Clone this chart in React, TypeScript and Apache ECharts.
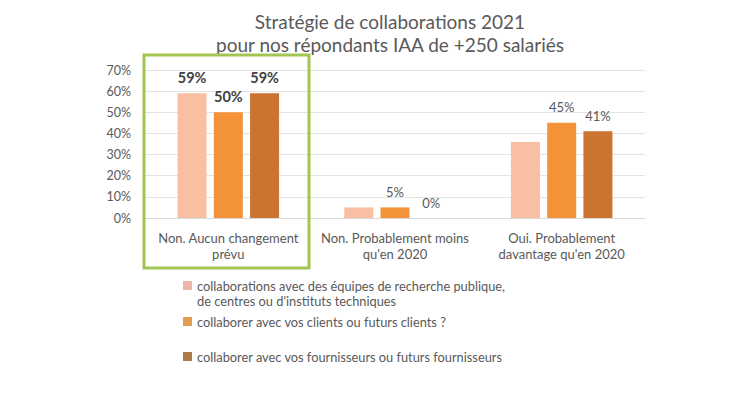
import React, { useEffect, useRef } from "react";
import * as echarts from "echarts";

const categories = [
  "Non. Aucun changement\nprévu",
  "Non. Probablement moins\nqu'en 2020",
  "Oui. Probablement\ndavantage qu'en 2020",
];
const seriesNames = [
  "collaborations avec des équipes de recherche publique,\nde centres ou d'instituts techniques",
  "collaborer avec vos clients ou futurs clients ?",
  "collaborer avec vos fournisseurs ou futurs fournisseurs",
];
const recherche = [59, 5, 36];
const clients = [50, 5, 45];
const fournisseurs = [59, 0, 41];
const showLabel = [
  [true, false, false],
  [true, true, true],
  [true, true, true],
];
const yTicks = [0, 10, 20, 30, 40, 50, 60, 70];
const colors = ["#F8BFA2", "#F4923A", "#CB7331"];
const legendColors = ["#EEB6A8", "#E49B52", "#AE7A44"];
const FONT = "Lato";

export default function App() {
  const ref = useRef<HTMLDivElement>(null);
  useEffect(() => {
    if (!ref.current) return;
    const chart = echarts.init(ref.current, null, { renderer: "svg" });
    const allData = [recherche, clients, fournisseurs];
    const series = allData.map((vals, si) => ({
      name: seriesNames[si],
      type: "bar",
      barWidth: 29,
      barGap: "25%",
      itemStyle: { color: colors[si] },
      data: vals.map((v, ci) => ({
        value: v,
        label: {
          show: showLabel[si][ci],
          position: "top",
          distance: ci === 0 ? 8 : 9,
          formatter: "{c}%",
          fontFamily: FONT,
          fontSize: ci === 0 ? 14.5 : 13,
          fontWeight: ci === 0 ? "bold" : "normal",
          color: ci === 0 ? "#404040" : "#595959",
        },
      })),
    }));
    const legendBase = {
      orient: "vertical",
      left: 183,
      padding: 0,
      itemWidth: 9,
      itemHeight: 9,
      itemGap: 0,
      icon: "rect",
      textStyle: { fontFamily: FONT, fontSize: 12.8, color: "#595959", lineHeight: 15 },
    };
    chart.setOption({
      animation: false,
      textStyle: { fontFamily: FONT },
      title: {
        text: "Stratégie de collaborations 2021\npour nos répondants IAA de +250 salariés",
        left: 385,
        textAlign: "center",
        top: 5,
        textStyle: { fontFamily: FONT, fontSize: 19, fontWeight: "normal", color: "#595959", lineHeight: 23 },
      },
      legend: seriesNames.map((n, i) => ({
        ...legendBase,
        top: i === 0 ? 263 : i === 1 ? 314 : 349,
        data: [{ name: n, itemStyle: { color: legendColors[i] } }],
        formatter: i === 0 ? (name: string) => "\n" + name : undefined,
      })),
      grid: { left: 145, right: 85, top: 70, bottom: 182, containLabel: false },
      xAxis: {
        type: "category",
        data: categories,
        axisLine: { show: true, lineStyle: { color: "#D9D9D9" } },
        axisTick: { show: false },
        axisLabel: { fontFamily: FONT, fontSize: 13, color: "#595959", margin: 12, lineHeight: 16, interval: 0 },
      },
      yAxis: {
        type: "value",
        min: 0,
        max: 70,
        interval: 10,
        axisLine: { show: false },
        axisTick: { show: false },
        splitLine: { lineStyle: { color: "#E3E3E3" } },
        axisLabel: {
          fontFamily: FONT,
          fontSize: 12.5,
          color: "#595959",
          margin: 14,
          formatter: (v: number) => (yTicks.includes(v) ? v + "%" : ""),
        },
      },
      graphic: [
        {
          type: "rect",
          shape: { x: 144, y: 55, width: 165, height: 213 },
          style: { fill: "none", stroke: "#A3C653", lineWidth: 3 },
          z: 10,
        },
      ],
      series,
    });
    return () => chart.dispose();
  }, []);
  return <div ref={ref} style={{ width: 730, height: 400, position: "absolute", left: 0, top: 0, background: "#fff" }} />;
}
